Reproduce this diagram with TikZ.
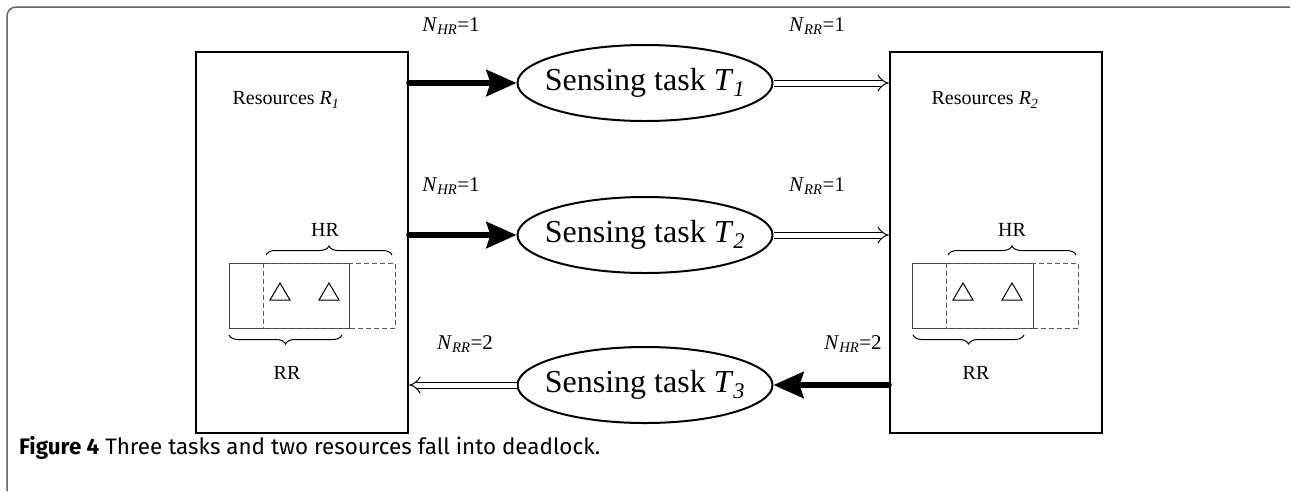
\documentclass[tikz,border=0pt]{standalone}
\usepackage{fontspec}
\setmainfont{Liberation Serif}
\newfontfamily\capfont{Fira Sans}
\usetikzlibrary{arrows.meta,shapes.geometric,decorations.pathreplacing}
\newcommand\nlab[2]{\textit{N}\textsubscript{\textit{#1}}=#2}
\begin{document}
\begin{tikzpicture}[x=1pt,y=-1pt,
 resbox/.style={draw, line width=2.5pt, minimum width=212pt, minimum height=381pt, inner sep=0pt},
 task/.style={draw, ellipse, line width=2pt, minimum width=255pt, minimum height=76pt, inner xsep=-12pt, inner ysep=0pt, font=\fontsize{32}{36}\selectfont},
 hold/.style={line width=6pt, line cap=round, -{Stealth[length=30pt,width=26pt,inset=4pt]}},
 req/.style={double, double distance=5pt, line width=1pt, -{Implies[scale=1.8]}},
 lab/.style={font=\fontsize{21}{24}\selectfont, inner sep=0pt},
 rlab/.style={font=\fontsize{20}{24}\selectfont, inner sep=0pt},
 inner/.style={line width=1pt, draw=black!75},
 dsh/.style={line width=1pt, draw=black!65, dash pattern=on 5pt off 3pt},
 brc/.style={line width=1pt, decorate, decoration={brace, amplitude=9pt}},
 tri/.style={line width=1pt}
]
\useasboundingbox (0,0) rectangle (1292,491);
% frame
\draw[black!60, line width=1.5pt, rounded corners=9pt] (7,491) -- (7,7) -- (1290,7);
% resource boxes
\node[resbox] (R1) at (302,242.5) {};
\node[resbox] (R2) at (996,242.5) {};
\node[rlab] (R1t) at (286,100) {Resources \textit{R}\textsubscript{\textit{1}}};
\node[rlab] (R2t) at (985,100) {Resources \textit{R}\textsubscript{\textit{2}}};
% tasks
\node[task] (T1) at (645,83) {Sensing task \textit{T}\textsubscript{\textit{1}}};
\node[task] (T2) at (645,235) {Sensing task \textit{T}\textsubscript{\textit{2}}};
\node[task] (T3) at (645,385) {Sensing task \textit{T}\textsubscript{\textit{3}}};
% connectors
\draw[hold] (R1.east |- T1.west) -- (T1.west);
\draw[req] (T1.east) -- (R2.west |- T1.east);
\draw[hold] (R1.east |- T2.west) -- (T2.west);
\draw[req] (T2.east) -- (R2.west |- T2.east);
\draw[hold] (R2.west |- T3.east) -- (T3.east);
\draw[req] (T3.west) -- (R1.east |- T3.west);
% labels
\node[lab] (l1) at (451,26) {\nlab{HR}{1}};
\node[lab] (l2) at (817,26) {\nlab{RR}{1}};
\node[lab] (l3) at (451,186) {\nlab{HR}{1}};
\node[lab] (l4) at (817,186) {\nlab{RR}{1}};
\node[lab] (l5) at (465,344) {\nlab{RR}{2}};
\node[lab] (l6) at (853,344) {\nlab{HR}{2}};
% inner R1
\draw[inner] (229,263) rectangle (349,328);
\draw[dsh] (263,263) rectangle (395,328);
\draw[tri] (270,300) -- (280,283) -- (290,300) -- cycle;
\draw[tri] (319,300) -- (329,283) -- (339,300) -- cycle;
\draw[brc] (266,255) -- (392,255);
\draw[brc] (342,335) -- (229,335);
\node[rlab] (hr1) at (325,230) {HR};
\node[rlab] (rr1) at (287,373) {RR};
% inner R2
\draw[inner] (912,263) rectangle (1033,328);
\draw[dsh] (946,263) rectangle (1078,328);
\draw[tri] (953,300) -- (963,283) -- (973,300) -- cycle;
\draw[tri] (1002,300) -- (1012,283) -- (1022,300) -- cycle;
\draw[brc] (948,255) -- (1076,255);
\draw[brc] (1024,335) -- (913,335);
\node[rlab] (hr2) at (1012,230) {HR};
\node[rlab] (rr2) at (976,373) {RR};
% caption
\node[anchor=west, inner sep=0pt, font=\capfont\fontsize{22.4}{24}\selectfont] (cap) at (19,448) {\textbf{Figure 4} Three tasks and two resources fall into deadlock.};
\end{tikzpicture}
\end{document}
